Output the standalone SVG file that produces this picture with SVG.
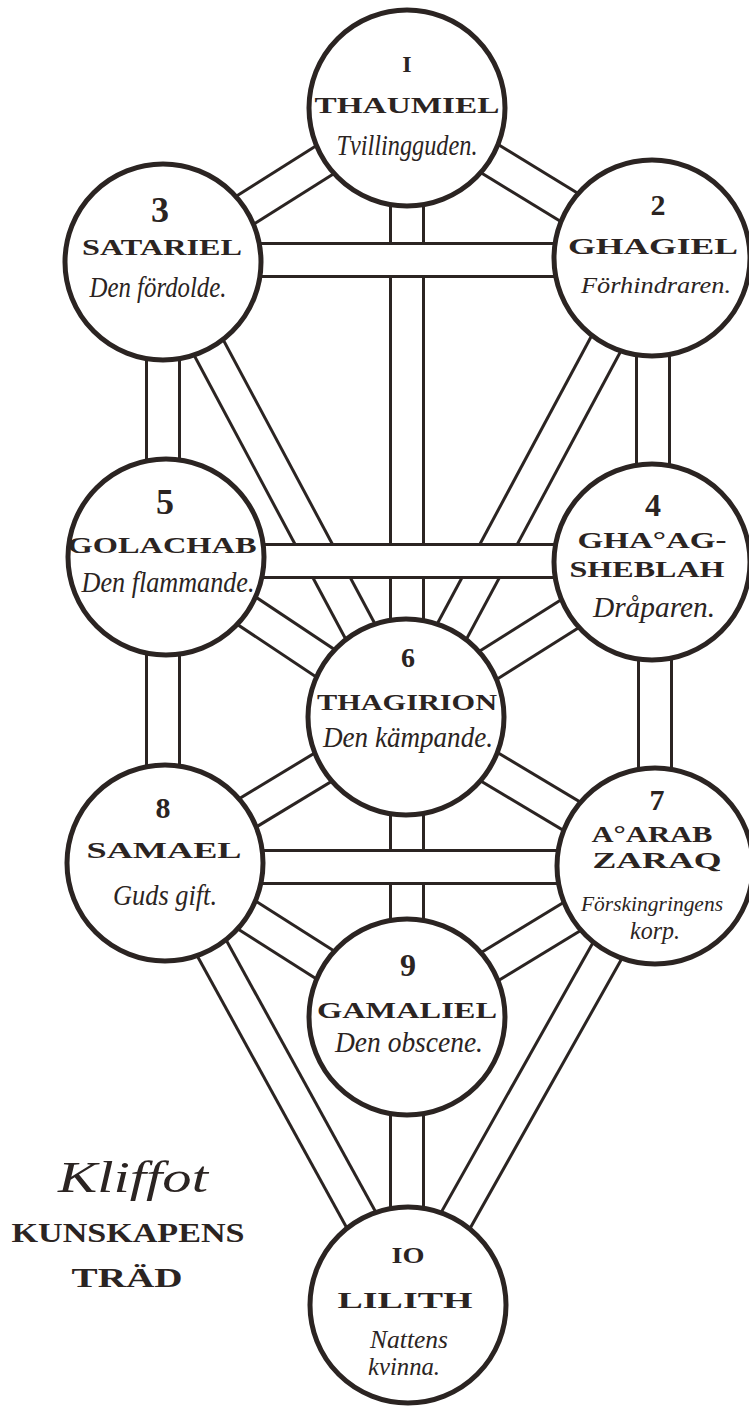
<svg xmlns="http://www.w3.org/2000/svg" width="749" height="1408" viewBox="0 0 749 1408">
<style>
.cb{stroke:#2b2422;stroke-width:36;fill:none}
.cw{stroke:#ffffff;stroke-width:30;fill:none}
.node circle{fill:#ffffff;stroke:#2b2422;stroke-width:5}
text{fill:#2b2422;text-anchor:middle}
.num{font-family:"Liberation Serif",serif;font-size:30px;font-weight:bold}
.cap{font-family:"Liberation Serif",serif;font-size:23px;font-weight:bold}
.scr{font-family:"Liberation Serif",serif;font-size:30px;font-style:italic}
</style>
<defs>
<g id="low">
<line x1="407" y1="108" x2="163" y2="262"/>
<line x1="407" y1="108" x2="652" y2="258"/>
<line x1="407" y1="108" x2="407" y2="717"/>
<line x1="163" y1="262" x2="163" y2="557"/>
<line x1="653" y1="258" x2="653" y2="562"/>
<line x1="163" y1="262" x2="406" y2="717"/>
<line x1="652" y1="258" x2="406" y2="717"/>
<line x1="166" y1="557" x2="406" y2="717"/>
<line x1="652" y1="562" x2="406" y2="717"/>
<line x1="163" y1="557" x2="163" y2="863"/>
<line x1="655" y1="562" x2="655" y2="866"/>
<line x1="406" y1="717" x2="165" y2="863"/>
<line x1="406" y1="717" x2="655" y2="866"/>
<line x1="407" y1="717" x2="407" y2="1305"/>
<line x1="165" y1="863" x2="407" y2="1017"/>
<line x1="655" y1="866" x2="407" y2="1017"/>
<line x1="165" y1="863" x2="408" y2="1305"/>
<line x1="655" y1="866" x2="408" y2="1305"/>
</g>
<g id="high">
<line x1="163" y1="260" x2="652" y2="260"/>
<line x1="166" y1="561" x2="652" y2="561"/>
<line x1="165" y1="867" x2="655" y2="867"/>
</g>
</defs>
<rect width="749" height="1408" fill="#ffffff"/>
<g id="connectors">
<use href="#low" class="cb"/>
<use href="#low" class="cw"/>
<use href="#high" class="cb"/>
<use href="#high" class="cw"/>
</g>
<g id="n1" class="node">
<circle cx="407" cy="108" r="98"/>
<text class="num" x="407" y="72" style="font-size:24px">I</text>
<text class="cap" x="407" y="113" textLength="185" lengthAdjust="spacingAndGlyphs">THAUMIEL</text>
<text class="scr" x="407" y="155" textLength="141" lengthAdjust="spacingAndGlyphs">Tvillingguden.</text>
</g>
<g id="n3" class="node">
<circle cx="163" cy="262" r="98"/>
<text class="num" x="160" y="222" style="font-size:36px">3</text>
<text class="cap" x="162" y="255" textLength="160" lengthAdjust="spacingAndGlyphs">SATARIEL</text>
<text class="scr" x="158" y="297" textLength="137" lengthAdjust="spacingAndGlyphs">Den fördolde.</text>
</g>
<g id="n2" class="node">
<circle cx="652" cy="258" r="98"/>
<text class="num" x="658" y="215">2</text>
<text class="cap" x="653" y="254" textLength="170" lengthAdjust="spacingAndGlyphs">GHAGIEL</text>
<text class="scr" x="656" y="293" style="font-size:23px" textLength="150" lengthAdjust="spacingAndGlyphs">Förhindraren.</text>
</g>
<g id="n5" class="node">
<circle cx="166" cy="557" r="98"/>
<text class="num" x="165" y="514" style="font-size:36px">5</text>
<text class="cap" x="162" y="553" textLength="189" lengthAdjust="spacingAndGlyphs">GOLACHAB</text>
<text class="scr" x="168" y="592" textLength="173" lengthAdjust="spacingAndGlyphs">Den flammande.</text>
</g>
<g id="n4" class="node">
<circle cx="652" cy="562" r="98"/>
<text class="num" x="653" y="516" style="font-size:32px">4</text>
<text class="cap" x="652" y="548" textLength="149" lengthAdjust="spacingAndGlyphs">GHA°AG-</text>
<text class="cap" x="647" y="577" textLength="155" lengthAdjust="spacingAndGlyphs">SHEBLAH</text>
<text class="scr" x="654" y="617" textLength="122" lengthAdjust="spacingAndGlyphs">Dråparen.</text>
</g>
<g id="n6" class="node">
<circle cx="406" cy="717" r="98"/>
<text class="num" x="408" y="667" style="font-size:28px">6</text>
<text class="cap" x="407" y="710" textLength="180" lengthAdjust="spacingAndGlyphs">THAGIRION</text>
<text class="scr" x="408" y="747" textLength="170" lengthAdjust="spacingAndGlyphs">Den kämpande.</text>
</g>
<g id="n8" class="node">
<circle cx="165" cy="863" r="98"/>
<text class="num" x="163" y="818">8</text>
<text class="cap" x="164" y="858" textLength="155" lengthAdjust="spacingAndGlyphs">SAMAEL</text>
<text class="scr" x="165" y="905" textLength="104" lengthAdjust="spacingAndGlyphs">Guds gift.</text>
</g>
<g id="n7" class="node">
<circle cx="655" cy="866" r="98"/>
<text class="num" x="657" y="810">7</text>
<text class="cap" x="652" y="842" textLength="121" lengthAdjust="spacingAndGlyphs">A°ARAB</text>
<text class="cap" x="657" y="868" textLength="129" lengthAdjust="spacingAndGlyphs">ZARAQ</text>
<text class="scr" x="652" y="911" style="font-size:21px" textLength="142" lengthAdjust="spacingAndGlyphs">Förskingringens</text>
<text class="scr" x="655" y="939" style="font-size:26px" textLength="50" lengthAdjust="spacingAndGlyphs">korp.</text>
</g>
<g id="n9" class="node">
<circle cx="407" cy="1017" r="98"/>
<text class="num" x="408" y="976" style="font-size:32px">9</text>
<text class="cap" x="407" y="1018" textLength="180" lengthAdjust="spacingAndGlyphs">GAMALIEL</text>
<text class="scr" x="409" y="1052" textLength="148" lengthAdjust="spacingAndGlyphs">Den obscene.</text>
</g>
<g id="n10" class="node">
<circle cx="408" cy="1305" r="98"/>
<text class="num" x="408" y="1263" style="font-size:24px" textLength="33" lengthAdjust="spacingAndGlyphs">IO</text>
<text class="cap" x="405" y="1308" textLength="135" lengthAdjust="spacingAndGlyphs">LILITH</text>
<text class="scr" x="409" y="1348" style="font-size:26px" textLength="78" lengthAdjust="spacingAndGlyphs">Nattens</text>
<text class="scr" x="404" y="1375" style="font-size:26px" textLength="72" lengthAdjust="spacingAndGlyphs">kvinna.</text>
</g>
<g id="legend">
<text class="scr" x="133" y="1192" style="font-size:44px" textLength="150" lengthAdjust="spacingAndGlyphs">Kliffot</text>
<text class="cap" x="128" y="1242" style="font-size:27px" textLength="233" lengthAdjust="spacingAndGlyphs">KUNSKAPENS</text>
<text class="cap" x="127" y="1287" style="font-size:27px" textLength="111" lengthAdjust="spacingAndGlyphs">TRÄD</text>
</g>
</svg>
